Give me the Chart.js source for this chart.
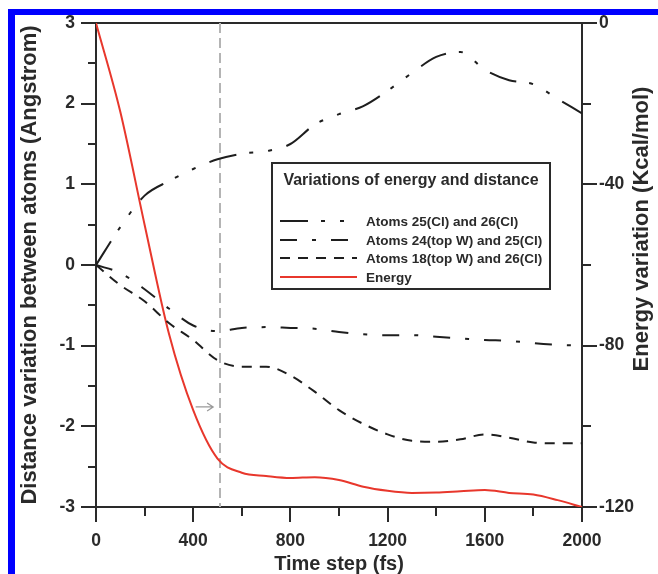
<!DOCTYPE html>
<html>
<head>
<meta charset="utf-8">
<script src="https://cdn.jsdelivr.net/npm/chart.js@4"></script>
<style>
  html, body { margin: 0; padding: 0; background: #fff; }
  #wrap { position: relative; width: 658px; height: 574px; }
  #frame { position: absolute; left: 8px; top: 9px; right: 0; bottom: 0;
           border-top: 6px solid #0000ff; border-left: 7px solid #0000ff; }
  #chart { position: absolute; left: 0; top: 0; }
</style>
</head>
<body>
<div id="wrap">
  <div id="frame"></div>
  <canvas id="chart" width="658" height="574"></canvas>
</div>
<script>
// time axis (fs)
var timeFs = [0, 100, 200, 300, 400, 500, 600, 700, 800, 900, 1000,
              1100, 1200, 1300, 1400, 1500, 1600, 1700, 1800, 1900, 2000];

// distance variations (Angstrom)
var dist25_26 = [0, 0.47, 0.86, 1.04, 1.19, 1.31, 1.38, 1.41, 1.50, 1.74, 1.87,
                 1.97, 2.16, 2.38, 2.58, 2.64, 2.42, 2.29, 2.24, 2.06, 1.88];
var dist24_25 = [0, -0.10, -0.30, -0.54, -0.75, -0.82, -0.78, -0.77, -0.78, -0.79, -0.83,
                 -0.86, -0.87, -0.87, -0.89, -0.91, -0.93, -0.94, -0.97, -0.99, -1.0];
var dist18_26 = [0, -0.25, -0.45, -0.72, -0.93, -1.18, -1.26, -1.26, -1.37, -1.57, -1.80,
                 -1.97, -2.10, -2.18, -2.19, -2.16, -2.10, -2.14, -2.20, -2.21, -2.21];

// energy variation (Kcal/mol)
var energy = [0, -22, -50, -77, -96, -108, -111.5, -112.3, -112.8, -112.6, -113.3,
              -115, -116, -116.5, -116.4, -116.1, -115.8, -116.5, -116.9, -118.3, -120];

var seriesLabels = ["Atoms 25(Cl) and 26(Cl)", "Atoms 24(top W) and 25(Cl)",
                    "Atoms 18(top W) and 26(Cl)", "Energy"];
var legendTitle = "Variations of energy and distance";

// marker at ~510 fs with a small arrow
var markerFs = 510;
var arrowFromFs = 410, arrowToFs = 482, arrowDist = -1.76;

function pts(ys) {
  return timeFs.map(function (t, i) { return { x: t, y: ys[i] }; });
}

var FONT = "'Liberation Sans', Arial, sans-serif";
var INK = "#2a2a2a";

function minorDash(axis) {
  return function (ctx) {
    var v = ctx.tick ? ctx.tick.value : 0;
    var major = axis === "x" ? v % 400 === 0 : axis === "y" ? Number.isInteger(v) : v % 40 === 0;
    if (major) return [];
    return axis === "y" ? [0, 7, 8, 40] : [8, 40];
  };
}

var extras = {
  id: "extras",
  beforeDatasetsDraw: function (chart) {
    var c = chart.ctx, a = chart.chartArea;
    var xs = chart.scales.x, ys = chart.scales.y;
    c.save();
    // top frame line
    c.strokeStyle = INK; c.lineWidth = 2;
    c.beginPath(); c.moveTo(a.left, a.top); c.lineTo(a.right, a.top); c.stroke();
    // dashed marker line
    var mx = Math.round(xs.getPixelForValue(markerFs));
    c.strokeStyle = "#b4b4b4"; c.lineWidth = 2; c.setLineDash([10, 5]);
    c.beginPath(); c.moveTo(mx, a.top); c.lineTo(mx, a.bottom); c.stroke();
    c.setLineDash([]);
    // arrow
    var ax1 = xs.getPixelForValue(arrowFromFs), ax2 = xs.getPixelForValue(arrowToFs);
    var ay = ys.getPixelForValue(arrowDist);
    c.strokeStyle = "#9a9a9a"; c.lineWidth = 1.3;
    c.beginPath(); c.moveTo(ax1, ay); c.lineTo(ax2, ay);
    c.moveTo(ax2 - 6, ay - 4); c.lineTo(ax2, ay); c.lineTo(ax2 - 6, ay + 4); c.stroke();
    c.restore();
  },
  afterDraw: function (chart) {
    var c = chart.ctx;
    c.save();
    // right axis title
    c.fillStyle = INK;
    c.font = "bold 22px " + FONT;
    c.textAlign = "center"; c.textBaseline = "middle";
    c.translate(642, 229); c.rotate(-Math.PI / 2);
    c.fillText("Energy variation (Kcal/mol)", 0, 0);
    c.restore();

    // legend box
    c.save();
    var bx = 272, by = 163, bw = 278, bh = 126;
    c.fillStyle = "#fff"; c.fillRect(bx, by, bw, bh);
    c.strokeStyle = INK; c.lineWidth = 2; c.strokeRect(bx, by, bw, bh);
    c.fillStyle = INK;
    c.font = "bold 16px " + FONT;
    c.textAlign = "center"; c.textBaseline = "middle";
    c.fillText(legendTitle, bx + bw / 2, 181);
    var rowY = [221, 240, 258, 277];
    c.font = "bold 13.5px " + FONT;
    c.textAlign = "left";
    chart.data.datasets.forEach(function (ds, i) {
      c.strokeStyle = ds.borderColor; c.lineWidth = ds.borderWidth;
      c.setLineDash(ds.borderDash || []);
      c.beginPath(); c.moveTo(280, rowY[i]); c.lineTo(357, rowY[i]); c.stroke();
      c.setLineDash([]);
      c.fillStyle = INK;
      c.fillText(ds.label, 366, rowY[i] + 1);
    });
    c.restore();
  }
};

var tickFont = { family: FONT, size: 17.5, weight: "bold" };

new Chart(document.getElementById("chart"), {
  type: "line",
  data: {
    datasets: [
      { label: seriesLabels[0], data: pts(dist25_26), yAxisID: "y",
        borderColor: "#1e1e1e", borderWidth: 2, borderDash: [28, 13, 4, 15, 4, 15] },
      { label: seriesLabels[1], data: pts(dist24_25), yAxisID: "y",
        borderColor: "#1e1e1e", borderWidth: 2, borderDash: [17, 15, 4, 15] },
      { label: seriesLabels[2], data: pts(dist18_26), yAxisID: "y",
        borderColor: "#1e1e1e", borderWidth: 2, borderDash: [10, 8] },
      { label: seriesLabels[3], data: pts(energy), yAxisID: "y2",
        borderColor: "#e8372c", borderWidth: 2 }
    ]
  },
  options: {
    responsive: false,
    animation: false,
    devicePixelRatio: 1,
    layout: { padding: { top: 23, left: 0, right: 0, bottom: 0 } },
    elements: { point: { radius: 0 }, line: { cubicInterpolationMode: "monotone" } },
    plugins: { legend: { display: false }, tooltip: { enabled: false } },
    scales: {
      x: {
        type: "linear", position: "bottom", min: 0, max: 2000,
        afterFit: function (s) { s.height = 67; },
        ticks: {
          stepSize: 200, autoSkip: false, maxRotation: 0, padding: 9,
          color: INK, font: tickFont,
          callback: function (v) { return v % 400 === 0 ? v : ""; }
        },
        grid: { drawOnChartArea: false, tickLength: 15, color: INK, lineWidth: 2,
                tickBorderDash: minorDash("x") },
        border: { color: INK, width: 2 },
        title: { display: true, text: "Time step (fs)", color: INK,
                 font: { family: FONT, size: 20, weight: "bold" }, padding: { top: 0, bottom: -2 } }
      },
      y: {
        position: "left", min: -3, max: 3,
        afterFit: function (s) { s.width = 96; },
        ticks: {
          stepSize: 0.5, autoSkip: false, padding: 6, color: INK, font: tickFont,
          callback: function (v) { return Number.isInteger(v) ? v : ""; }
        },
        grid: { drawOnChartArea: false, tickLength: 15, color: INK, lineWidth: 2,
                tickBorderDash: minorDash("y") },
        border: { color: INK, width: 2 },
        title: { display: true, text: "Distance variation between atoms (Angstrom)",
                 color: INK, font: { family: FONT, size: 22, weight: "bold" },
                 padding: { top: 17, bottom: 0 } }
      },
      y2: {
        position: "right", min: -120, max: 0,
        afterFit: function (s) { s.width = 76; },
        ticks: {
          stepSize: 20, autoSkip: false, padding: 2, color: INK, font: tickFont,
          callback: function (v) { return v % 40 === 0 ? v : ""; }
        },
        grid: { drawOnChartArea: false, tickLength: 15, color: INK, lineWidth: 2,
                tickBorderDash: minorDash("y2") },
        border: { color: INK, width: 2 }
      }
    }
  },
  plugins: [extras]
});
</script>
</body>
</html>
